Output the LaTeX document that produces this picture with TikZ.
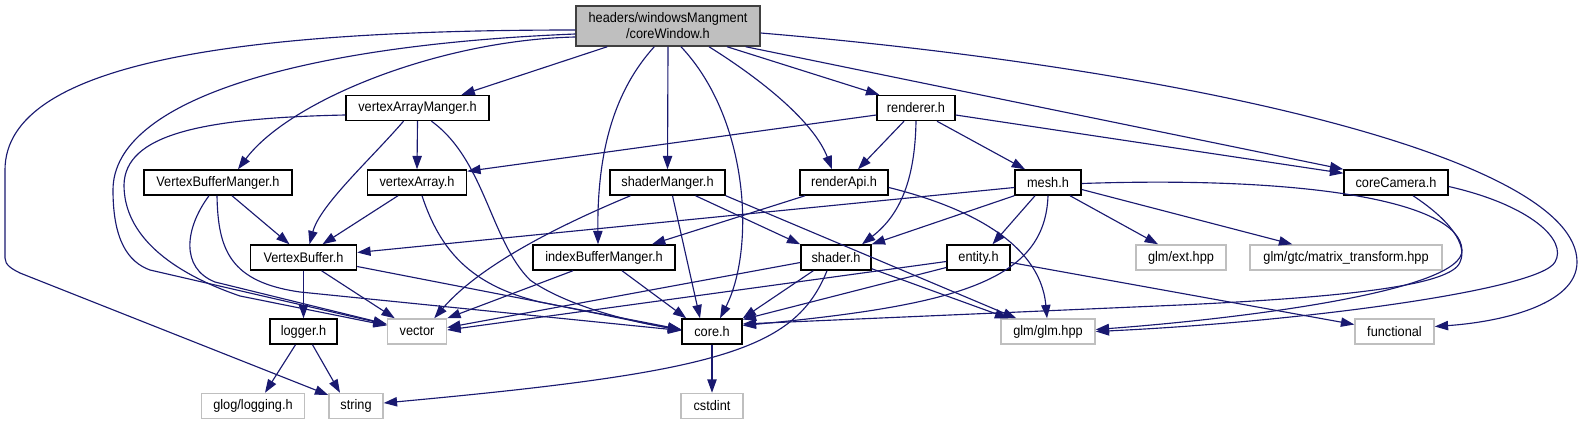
\documentclass[tikz,border=0pt]{standalone}
\usepackage{fontspec}
\setmainfont{Liberation Sans}[FakeStretch=0.92]
\usetikzlibrary{arrows.meta,calc}
\definecolor{edgeblue}{RGB}{25,25,112}
\definecolor{extgray}{RGB}{191,191,191}
\definecolor{rootfill}{RGB}{191,191,191}
\begin{document}
\begin{tikzpicture}[x=0.75pt,y=-0.75pt,
  nd/.style={draw=black, fill=white, line width=1.1pt, inner sep=0pt, minimum height=18.75pt, font=\fontsize{10.4}{12}\selectfont},
  xnd/.style={nd, draw=extgray},
  rootnd/.style={nd, fill=rootfill, draw=black!75, minimum height=30pt, align=center},
  e/.style={draw=edgeblue, line width=0.85pt, -{Triangle[length=10pt,width=7pt]}}]
\useasboundingbox (0,0) rectangle (1583,425);
% nodes
\node[rootnd, minimum width=138pt] (cw) at (668,26) {headers/windowsMangment\\/coreWindow.h};
\node[nd, minimum width=107.25pt] (vam) at (417.5,108) {vertexArrayManger.h};
\node[nd, minimum width=58.5pt] (ren) at (916,108) {renderer.h};
\node[nd, minimum width=111pt] (vbm) at (218,182.5) {VertexBufferManger.h};
\node[nd, minimum width=74.25pt] (va) at (417,182.5) {vertexArray.h};
\node[nd, minimum width=86.25pt] (sm) at (667.5,182.5) {shaderManger.h};
\node[nd, minimum width=66pt] (ra) at (844,182.5) {renderApi.h};
\node[nd, minimum width=49.5pt] (mesh) at (1048,182.5) {mesh.h};
\node[nd, minimum width=78pt] (cam) at (1396,182.5) {coreCamera.h};
\node[nd, minimum width=79.5pt] (vb) at (303.5,257.5) {VertexBuffer.h};
\node[nd, minimum width=106.5pt] (ibm) at (604,257.5) {indexBufferManger.h};
\node[nd, minimum width=52.5pt] (sh) at (836,257.5) {shader.h};
\node[nd, minimum width=47.25pt] (ent) at (978.5,257.5) {entity.h};
\node[xnd, minimum width=67.5pt] (ext) at (1181,257.5) {glm/ext.hpp};
\node[xnd, minimum width=144pt] (mt) at (1346,257.5) {glm/gtc/matrix\_transform.hpp};
\node[nd, minimum width=50.25pt] (log) at (303.5,331.5) {logger.h};
\node[xnd, minimum width=44.25pt] (vec) at (417,331.5) {vector};
\node[nd, minimum width=45pt] (core) at (712,331.5) {core.h};
\node[xnd, minimum width=70.5pt] (glm) at (1048,331.5) {glm/glm.hpp};
\node[xnd, minimum width=59.25pt] (fun) at (1394.5,331.5) {functional};
\node[xnd, minimum width=77.25pt] (glog) at (253,406) {glog/logging.h};
\node[xnd, minimum width=40.5pt] (str) at (356,406) {string};
\node[xnd, minimum width=46.5pt] (cst) at (712,406) {cstdint};
% edges from coreWindow
\draw[e] ($(cw.west)+(0,4)$) .. controls (250,30) and (5,60) .. (5,170) -- (5,258) .. controls (5,265) and (12,269) .. (20,273) -- (str);
\draw[e] ($(cw.west)+(0,8)$) .. controls (300,45) and (113,100) .. (113,190) .. controls (113,240) and (128,262) .. (150,270) -- (vec);
\draw[e] ($(cw.west)+(0,11)$) .. controls (440,40) and (290,100) .. ($(vbm.north)+(20,0)$);
\draw[e] ($(cw.south west)+(32,0)$) -- ($(vam.north)+(44,0)$);
\draw[e] ($(cw.south west)+(79,0)$) .. controls (615,90) and (597,150) .. ($(ibm.north)+(-6,0)$);
\draw[e] (cw.south) -- (sm.north);
\draw[e] ($(cw.south)+(13,0)$) .. controls (750,120) and (755,250) .. ($(core.north)+(8,0)$);
\draw[e] ($(cw.south)+(41,0)$) .. controls (770,85) and (815,125) .. ($(ra.north)+(-12,0)$);
\draw[e] ($(cw.south)+(59,0)$) -- ($(ren.north west)+(3,0)$);
\draw[e] ($(cw.south east)+(-15,0)$) -- (cam.north west);
\draw[e] ($(cw.east)+(0,7)$) .. controls (1200,70) and (1577,160) .. (1577,262) .. controls (1577,305) and (1500,322) .. ($(fun.east)+(0,-5)$);
% vertexArrayManger
\draw[e] ($(vam.south)+(-14,0)$) .. controls (370,160) and (320,205) .. ($(vb.north)+(6,0)$);
\draw[e] (vam.south) -- (va.north);
\draw[e] ($(vam.south)+(14,0)$) .. controls (485,160) and (490,240) .. (530,280) .. controls (565,305) and (630,322) .. ($(core.west)+(0,-2)$);
\draw[e] ($(vam.west)+(0,7)$) .. controls (200,118) and (125,135) .. (124,185) .. controls (124,235) and (170,272) .. (240,296) -- (vec);
% VertexBufferManger
\draw[e] ($(vbm.south)+(14,0)$) -- ($(vb.north)+(-14,0)$);
\draw[e] ($(vbm.south)+(-9,0)$) .. controls (185,228) and (180,268) .. (215,282) -- (vec);
\draw[e] ($(vbm.south)+(-1,0)$) .. controls (218,250) and (230,282) .. (300,292) -- ($(core.west)+(0,-1)$);
% vertexArray
\draw[e] ($(va.south)+(-19,0)$) -- ($(vb.north)+(19,0)$);
\draw[e] ($(va.south)+(5,0)$) .. controls (440,250) and (470,285) .. (540,302) -- ($(core.west)+(0,-1)$);
% VertexBuffer
\draw[e] (vb.south) -- (log.north);
\draw[e] ($(vb.south)+(18,0)$) -- ($(vec.north west)+(8,0)$);
\draw[e] ($(vb.east)+(0,9)$) -- ($(core.west)+(0,-2)$);
% indexBufferManger
\draw[e] ($(ibm.south)+(-31,0)$) -- (vec.north east);
\draw[e] ($(ibm.south)+(18,0)$) -- ($(core.north west)+(5,0)$);
% shaderManger
\draw[e] ($(sm.south)+(-37,0)$) .. controls (560,225) and (480,265) .. ($(vec.north east)+(-13,0)$);
\draw[e] ($(sm.south)+(5,0)$) -- ($(core.north)+(-12,0)$);
\draw[e] ($(sm.south)+(28,0)$) -- (sh.north west);
\draw[e] (sm.south east) -- ($(glm.north west)+(16,0)$);
% renderer
\draw[e] ($(ren.west)+(0,7)$) -- ($(va.north east)+(0,2)$);
\draw[e] ($(ren.south)+(-12,0)$) -- ($(ra.north)+(14,0)$);
\draw[e] (ren.south) .. controls (915,180) and (900,215) .. ($(sh.north)+(26,0)$);
\draw[e] ($(ren.south)+(21,0)$) -- ($(mesh.north)+(-23,0)$);
\draw[e] ($(ren.east)+(0,7)$) -- ($(cam.north west)+(0,4)$);
% renderApi
\draw[e] ($(ra.south)+(-39,0)$) -- ($(ibm.north)+(48,0)$);
\draw[e] ($(ra.east)+(0,5)$) .. controls (960,205) and (1040,240) .. ($(glm.north)+(-1,0)$);
% mesh
\draw[e] ($(mesh.west)+(0,5)$) -- ($(vb.east)+(0,-5)$);
\draw[e] (mesh.south west) -- (sh.north east);
\draw[e] ($(mesh.south)+(-13,0)$) -- ($(ent.north)+(14,0)$);
\draw[e] (mesh.south) .. controls (1045,280) and (960,305) .. ($(core.east)+(0,-6)$);
\draw[e] ($(mesh.south)+(22,0)$) -- ($(ext.north)+(-23,0)$);
\draw[e] ($(mesh.east)+(0,7)$) -- ($(mt.north west)+(43,0)$);
\draw[e] ($(mesh.east)+(0,1)$) .. controls (1300,176) and (1460,200) .. (1462,250) .. controls (1464,290) and (1250,318) .. ($(glm.east)+(0,-2)$);
% coreCamera
\draw[e] ($(cam.south)+(17,0)$) .. controls (1450,220) and (1468,245) .. (1460,262) .. controls (1452,285) and (1350,297) .. (1180,305) -- ($(core.east)+(0,-7.5)$);
\draw[e] ($(cam.east)+(0,4)$) .. controls (1530,205) and (1568,240) .. (1555,262) .. controls (1540,290) and (1300,322) .. (glm.east);
% shader
\draw[e] ($(sh.west)+(0,5)$) -- ($(vec.east)+(0,-4)$);
\draw[e] ($(sh.south west)+(13,0)$) -- (core.north east);
\draw[e] ($(sh.south)+(-9,0)$) .. controls (795,350) and (720,372) .. ($(str.east)+(0,-3)$);
\draw[e] ($(sh.south east)+(0,-2)$) -- ($(glm.north west)+(8,0)$);
% entity
\draw[e] ($(ent.west)+(0,4)$) -- ($(vec.east)+(0,-1.5)$);
\draw[e] ($(ent.west)+(0,10)$) -- ($(core.east)+(0,-12)$);
\draw[e] ($(ent.east)+(0,5)$) -- ($(fun.west)+(0,-7)$);
% logger, core
\draw[e] ($(log.south)+(-8,0)$) -- ($(glog.north)+(12,0)$);
\draw[e] ($(log.south)+(9,0)$) -- ($(str.north)+(-16,0)$);
\draw[e] (core.south) -- (cst.north);
\end{tikzpicture}
\end{document}
